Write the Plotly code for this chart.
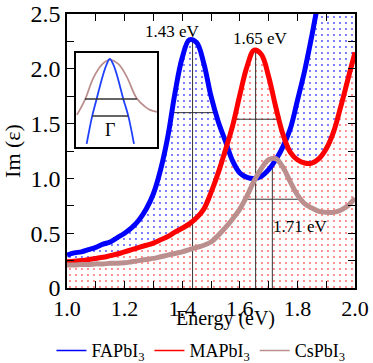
import plotly.graph_objects as go

# photon energy grid (eV)
energy = [1.000, 1.025, 1.050, 1.075, 1.100, 1.125, 1.150, 1.175, 1.200, 1.225,
          1.250, 1.275, 1.300, 1.325, 1.350, 1.375, 1.400, 1.425, 1.450, 1.475,
          1.500, 1.525, 1.550, 1.575, 1.600, 1.625, 1.650, 1.675, 1.700, 1.725,
          1.750, 1.775, 1.800, 1.825, 1.850, 1.875, 1.900, 1.925, 1.950, 1.975,
          2.000]

# Im(eps) for each perovskite
fapbi3 = [0.30, 0.32, 0.33, 0.35, 0.37, 0.40, 0.42, 0.46, 0.50, 0.55,
          0.62, 0.72, 0.86, 1.08, 1.38, 1.78, 2.10, 2.265, 2.24, 2.05,
          1.75, 1.52, 1.34, 1.16, 1.05, 1.01, 1.00, 1.02, 1.08, 1.17,
          1.29, 1.45, 1.71, 1.98, 2.30, 2.65, 3.00, 3.30, 3.60, 3.90,
          4.20]
mapbi3 = [0.24, 0.245, 0.25, 0.26, 0.27, 0.28, 0.295, 0.31, 0.33, 0.35,
          0.37, 0.39, 0.41, 0.44, 0.47, 0.51, 0.545, 0.585, 0.64, 0.72,
          0.87, 1.05, 1.26, 1.48, 1.76, 2.02, 2.17, 2.13, 1.93, 1.65,
          1.40, 1.24, 1.17, 1.14, 1.14, 1.18, 1.27, 1.42, 1.65, 1.90,
          2.15]
cspbi3 = [0.21, 0.21, 0.215, 0.215, 0.22, 0.22, 0.225, 0.225, 0.23, 0.24,
          0.25, 0.26, 0.27, 0.285, 0.30, 0.315, 0.33, 0.35, 0.37, 0.39,
          0.42, 0.48, 0.55, 0.63, 0.72, 0.84, 0.98, 1.09, 1.17, 1.18,
          1.10, 0.97, 0.85, 0.77, 0.73, 0.70, 0.69, 0.69, 0.71, 0.75,
          0.82]

# peak markers: energy, height, and the width bar (level, from, to)
peak_energy = [1.436, 1.655, 1.713]
peak_height = [2.28, 2.18, 1.19]
bar_level = [1.60, 1.54, 0.81]
bar_lo = [1.362, 1.583, 1.623]
bar_hi = [1.516, 1.734, 1.808]
peak_labels = ['1.43 eV', '1.65 eV', '1.71 eV']
label_x = [1.368, 1.671, 1.812]
label_y = [2.34, 2.28, 0.56]

# inset sketch (arbitrary units)
inset_wide_x = [1, 9, 17.3, 25.7, 33.3, 42.3, 50.7, 60.7, 69, 74, 81]
inset_wide_y = [32, 47, 68.7, 82, 87, 83, 70.3, 48.7, 40.3, 37, 35]
inset_narrow_x = [10.7, 16.3, 20.7, 26.5, 30.5, 33.8, 37.5, 41.5, 47.3, 52.3, 58]
inset_narrow_y = [3, 31, 48, 70, 82, 88, 82, 70, 48, 31, 3]
inset_bars = [(48, 9, 61), (31, 16.3, 52.3)]

names = ['FAPbI<sub>3</sub>', 'MAPbI<sub>3</sub>', 'CsPbI<sub>3</sub>']
colors = ['#0000ff', '#ff0000', '#bc8f8f']
series = [fapbi3, mapbi3, cspbi3]

FONT = 'Liberation Serif, Times New Roman, Times, serif'

fig = go.Figure()

# dotted fills (red drawn over blue)
for ys, col, op in [(fapbi3, '#0000ff', 0.7), (mapbi3, '#ff0000', 0.6)]:
    fig.add_trace(go.Scatter(
        x=energy, y=ys, mode='none', fill='tozeroy', line_shape='spline',
        fillpattern=dict(shape='.', fgcolor=col, bgcolor='white',
                         fgopacity=op, size=6, solidity=0.08),
        showlegend=False, hoverinfo='skip'))

# peak guide lines
for i in range(3):
    fig.add_trace(go.Scatter(x=[peak_energy[i], peak_energy[i]], y=[0, peak_height[i]],
                             mode='lines', line=dict(color='#333333', width=1),
                             showlegend=False, hoverinfo='skip'))
    fig.add_trace(go.Scatter(x=[bar_lo[i], bar_hi[i]], y=[bar_level[i], bar_level[i]],
                             mode='lines', line=dict(color='#333333', width=1),
                             showlegend=False, hoverinfo='skip'))

# thick curves
for ys, col in zip(series, colors):
    fig.add_trace(go.Scatter(x=energy, y=ys, mode='lines', line_shape='spline',
                             line=dict(color=col, width=5),
                             showlegend=False))

# thin legend entries
for nm, col in zip(names, colors):
    fig.add_trace(go.Scatter(x=[None], y=[None], mode='lines', name=nm,
                             line=dict(color=col, width=1.6)))

# inset
fig.add_trace(go.Scatter(x=inset_wide_x, y=inset_wide_y, mode='lines', line_shape='spline',
                         line=dict(color='#bc8f8f', width=1.8), xaxis='x2', yaxis='y2',
                         showlegend=False))
fig.add_trace(go.Scatter(x=inset_narrow_x, y=inset_narrow_y, mode='lines', line_shape='spline',
                         line=dict(color='#2040ff', width=1.8), xaxis='x2', yaxis='y2',
                         showlegend=False))
for lvl, a, b in inset_bars:
    fig.add_trace(go.Scatter(x=[a, b], y=[lvl, lvl], mode='lines',
                             line=dict(color='#333333', width=1.5), xaxis='x2', yaxis='y2',
                             showlegend=False))

annotations = []
for t, ax, ay in zip(peak_labels, label_x, label_y):
    annotations.append(dict(x=ax, y=ay, text=t, showarrow=False,
                            font=dict(family=FONT, size=17, color='black')))
annotations.append(dict(x=34, y=17, xref='x2', yref='y2', text='Γ', showarrow=False,
                        font=dict(family=FONT, size=18, color='black')))
annotations.append(dict(x=0.55, y=-0.063, xref='paper', yref='paper', yanchor='top',
                        text='Energy (eV)', showarrow=False,
                        font=dict(family=FONT, size=20, color='black')))

xt = [1.0, 1.1, 1.2, 1.3, 1.4, 1.5, 1.6, 1.7, 1.8, 1.9, 2.0]
xl = ['1.0', '', '1.2', '', '1.4', '', '1.6', '', '1.8', '', '2.0']
yt = [0, 0.25, 0.5, 0.75, 1.0, 1.25, 1.5, 1.75, 2.0, 2.25, 2.5]
yl = ['0', '', '0.5', '', '1.0', '', '1.5', '', '2.0', '', '2.5']

fig.update_layout(
    width=373, height=363,
    margin=dict(l=67, r=18, t=14, b=75, autoexpand=False),
    paper_bgcolor='white', plot_bgcolor='white',
    font=dict(family=FONT, color='black'),
    xaxis=dict(range=[1.0, 2.0], tickvals=xt, ticktext=xl, ticks='inside', ticklen=7,
               tickwidth=1.2, tickcolor='black', showline=True, linecolor='black',
               linewidth=1.5, mirror='ticks', showgrid=False, zeroline=False,
               ticklabeloverflow='allow', tickfont=dict(family=FONT, size=22)),
    yaxis=dict(range=[0, 2.5], tickvals=yt, ticktext=yl, ticks='inside', ticklen=7,
               tickwidth=1.2, tickcolor='black', showline=True, linecolor='black',
               linewidth=1.5, mirror='ticks', showgrid=False, zeroline=False,
               ticklabeloverflow='allow', tickfont=dict(family=FONT, size=24),
               title=dict(text='Im (ε)', font=dict(family=FONT, size=22), standoff=6)),
    xaxis2=dict(domain=[0.031, 0.3125], range=[0, 81], anchor='y2', showline=True,
                linecolor='black', linewidth=1.5, mirror=True, showticklabels=False,
                ticks='', showgrid=False, zeroline=False),
    yaxis2=dict(domain=[0.515, 0.858], range=[0, 94], anchor='x2', showline=True,
                linecolor='black', linewidth=1.5, mirror=True, showticklabels=False,
                ticks='', showgrid=False, zeroline=False),
    legend=dict(orientation='h', x=-0.054, xanchor='left', y=-0.229, yanchor='middle',
                font=dict(family=FONT, size=18), itemwidth=30, tracegroupgap=0,
                bgcolor='rgba(0,0,0,0)'),
    annotations=annotations,
)

# drop the default body margin so the figure sits at the window corner
fig.write_html("out.html", config={'displayModeBar': False},
               post_script="document.body.style.margin='0';")
